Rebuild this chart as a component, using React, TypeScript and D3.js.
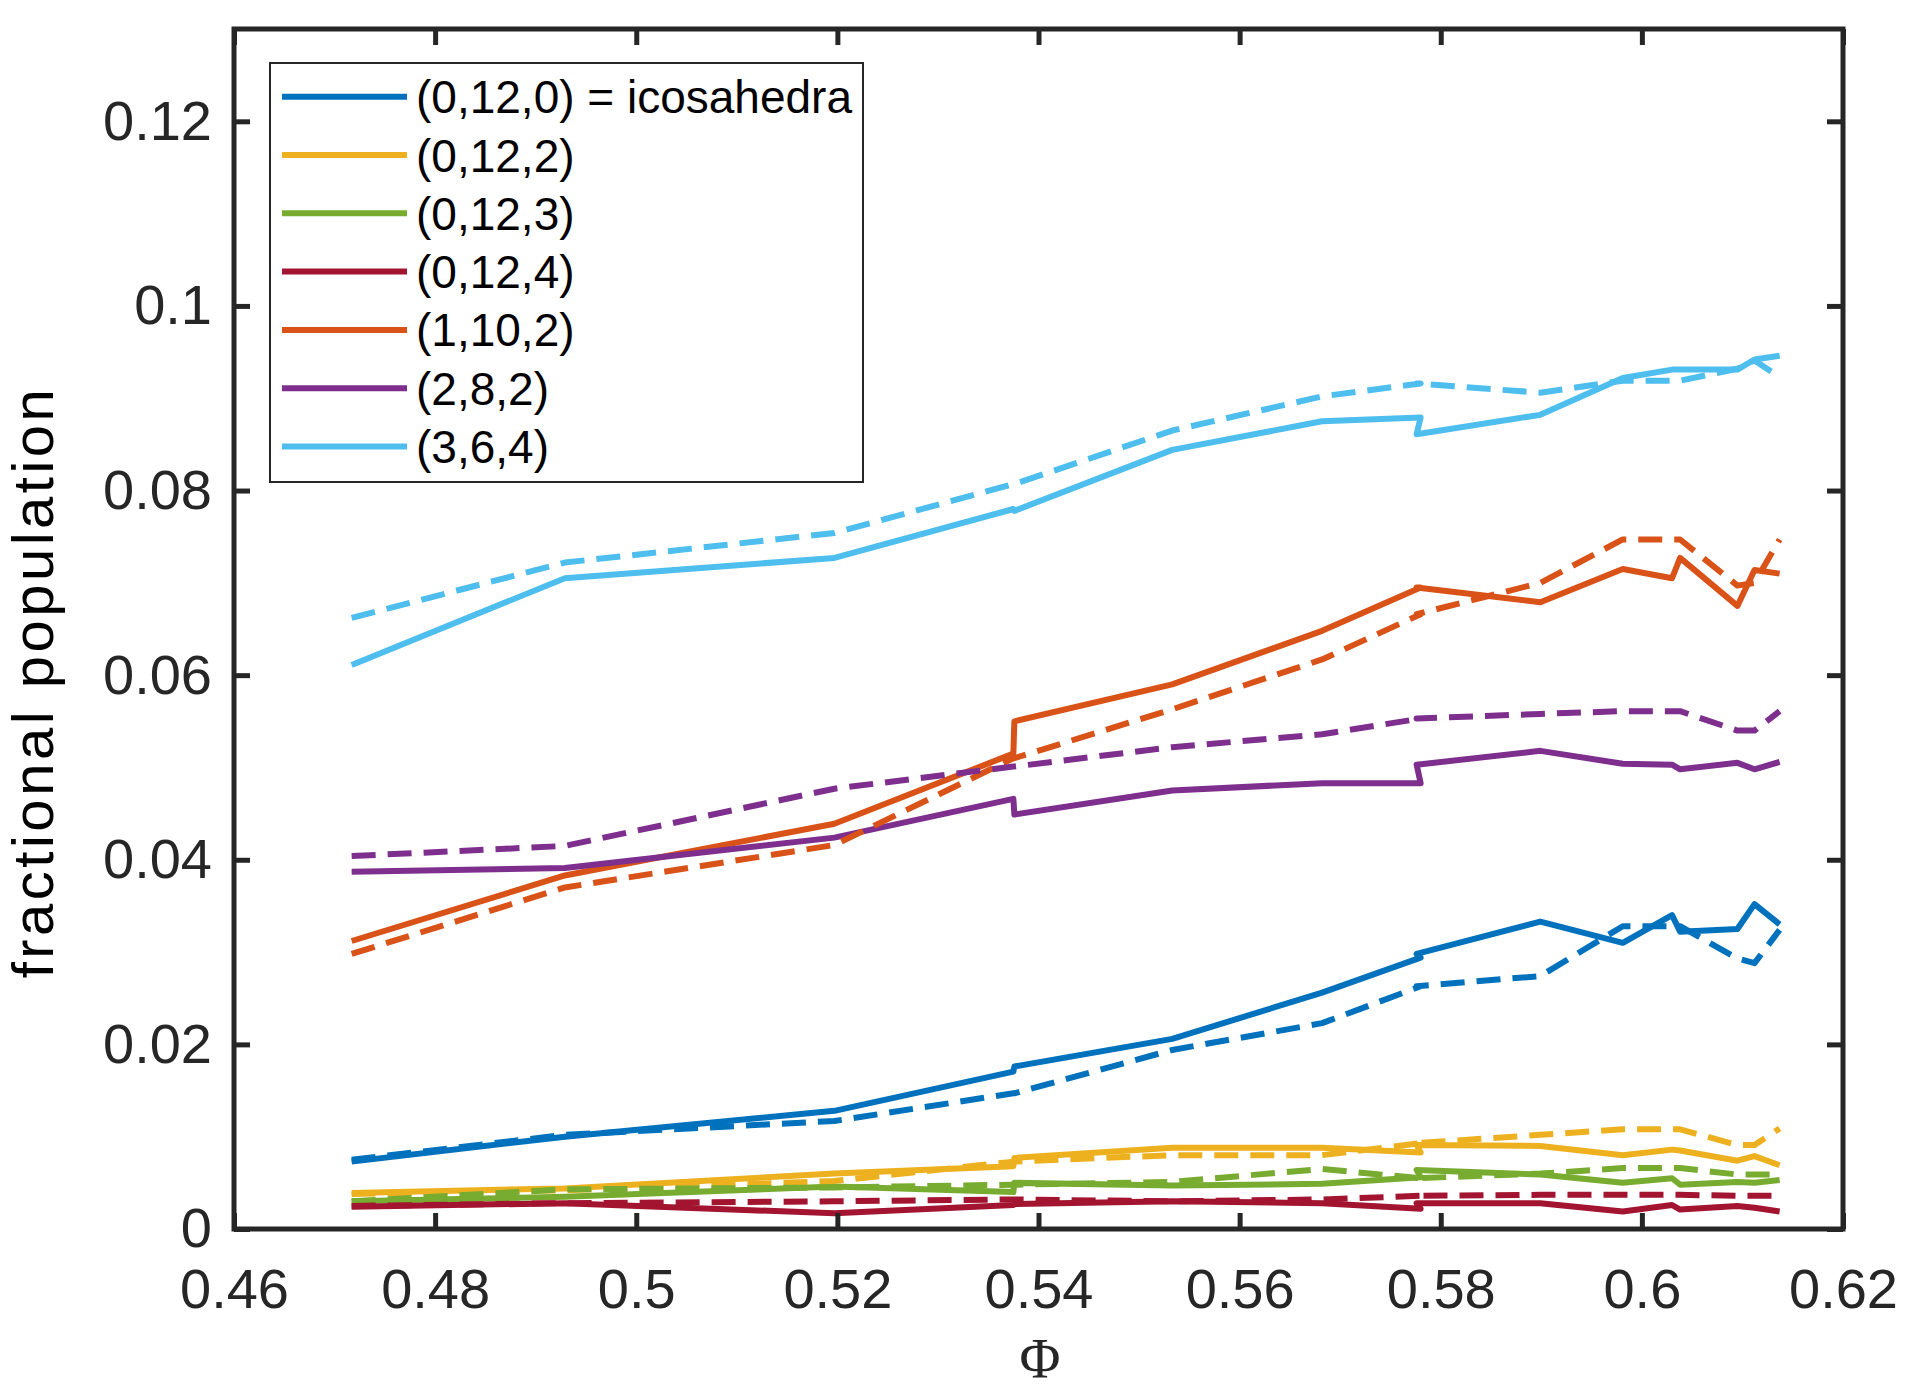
import { useEffect, useRef } from 'react';
import * as d3 from 'd3';

// packing fraction (x)
const phi = [0.4717, 0.4929, 0.5197, 0.5375, 0.5376, 0.5533, 0.5682, 0.578, 0.5776, 0.5899, 0.5981, 0.603, 0.6038, 0.6095, 0.6112, 0.6137];

const labels = ['(0,12,0) = icosahedra', '(0,12,2)', '(0,12,3)', '(0,12,4)', '(1,10,2)', '(2,8,2)', '(3,6,4)'];

// solid lines
const icosaSolid = [0.0073, 0.01, 0.0128, 0.01705, 0.0176, 0.0206, 0.0256, 0.0294, 0.0298, 0.0333, 0.031, 0.034, 0.0322, 0.0325, 0.0352, 0.033];
const c0122Solid = [0.0039, 0.0044, 0.006, 0.0068, 0.0077, 0.0088, 0.0088, 0.0083, 0.0091, 0.009, 0.008, 0.0086, 0.0085, 0.0074, 0.0079, 0.0069];
const c0123Solid = [0.003, 0.0035, 0.0046, 0.004, 0.005, 0.0047, 0.0049, 0.0056, 0.0064, 0.0059, 0.005, 0.0055, 0.0048, 0.0051, 0.005, 0.0053];
const c0124Solid = [0.0024, 0.0028, 0.0017, 0.0026, 0.0027, 0.003, 0.0028, 0.0022, 0.0028, 0.0028, 0.0019, 0.0026, 0.0021, 0.0025, 0.0023, 0.0019];
const c1102Solid = [0.0312, 0.0383, 0.0439, 0.0515, 0.055, 0.059, 0.0648, 0.0695, 0.0695, 0.0679, 0.0715, 0.0705, 0.0727, 0.0675, 0.0714, 0.071];
const c282Solid = [0.0387, 0.0391, 0.0424, 0.0466, 0.0449, 0.0475, 0.0483, 0.0483, 0.0503, 0.0518, 0.0504, 0.0503, 0.0498, 0.0505, 0.0498, 0.0506];
const c364Solid = [0.0611, 0.0705, 0.0727, 0.078, 0.0778, 0.0844, 0.0875, 0.0879, 0.0861, 0.0882, 0.0922, 0.0931, 0.0931, 0.0931, 0.0942, 0.0946];

// dashed lines
const icosaDashed = [0.0075, 0.0102, 0.0117, 0.0147, 0.0147, 0.0194, 0.0223, 0.0263, 0.0263, 0.0274, 0.0328, 0.0328, 0.0328, 0.0293, 0.0288, 0.0324];
const c0122Dashed = [0.0038, 0.0042, 0.0052, 0.0073, 0.0073, 0.008, 0.008, 0.0093, 0.0093, 0.0102, 0.0108, 0.0108, 0.0108, 0.0091, 0.0091, 0.0109];
const c0123Dashed = [0.003, 0.0043, 0.0045, 0.0048, 0.0048, 0.0051, 0.0065, 0.0055, 0.0055, 0.006, 0.0066, 0.0066, 0.0066, 0.0059, 0.0059, 0.0059];
const c0124Dashed = [0.0025, 0.0028, 0.003, 0.0032, 0.0032, 0.003, 0.0032, 0.0036, 0.0036, 0.0037, 0.0037, 0.0037, 0.0037, 0.0036, 0.0036, 0.0036];
const c1102Dashed = [0.0298, 0.037, 0.0416, 0.051, 0.051, 0.0563, 0.0617, 0.0666, 0.0666, 0.07, 0.0747, 0.0747, 0.0747, 0.0697, 0.07, 0.0747];
const c282Dashed = [0.0404, 0.0415, 0.0477, 0.0501, 0.0501, 0.0522, 0.0536, 0.0553, 0.0553, 0.0558, 0.0561, 0.0561, 0.0561, 0.054, 0.054, 0.0561];
const c364Dashed = [0.0662, 0.0722, 0.0754, 0.0807, 0.0807, 0.0865, 0.0902, 0.0916, 0.0916, 0.0906, 0.0919, 0.0919, 0.0919, 0.0932, 0.0941, 0.0923];

const xTicks = [0.46, 0.48, 0.5, 0.52, 0.54, 0.56, 0.58, 0.6, 0.62];
const yTicks = [0, 0.02, 0.04, 0.06, 0.08, 0.1, 0.12];

const colors = ['#0072BD', '#EDB120', '#77AC30', '#A2142F', '#D95319', '#7E2F8E', '#4DBEEE'];

export default function App() {
  const svgRef = useRef<SVGSVGElement>(null);

  useEffect(() => {
    if (!svgRef.current) return;

    const width = 1914;
    const height = 1394;
    const margin = { top: 29, right: 71, bottom: 165, left: 234 };
    const innerWidth = width - margin.left - margin.right;
    const innerHeight = height - margin.top - margin.bottom;
    const axisColor = '#262626';
    const font = '"Liberation Sans", Arial, Helvetica, sans-serif';

    const svg = d3.select(svgRef.current);
    svg.selectAll('*').remove();
    svg.attr('width', width).attr('height', height);

    const g = svg.append('g').attr('transform', `translate(${margin.left},${margin.top})`);

    const xScale = d3.scaleLinear().domain([0.46, 0.62]).range([0, innerWidth]);
    const yScale = d3.scaleLinear().domain([0, 0.13]).range([innerHeight, 0]);

    const solid = [icosaSolid, c0122Solid, c0123Solid, c0124Solid, c1102Solid, c282Solid, c364Solid];
    const dashed = [icosaDashed, c0122Dashed, c0123Dashed, c0124Dashed, c1102Dashed, c282Dashed, c364Dashed];

    const line = d3
      .line<number>()
      .x((_, i) => xScale(phi[i]))
      .y((d) => yScale(d));

    // Solid lines first, then dashed
    solid.forEach((vals, i) => {
      g.append('path')
        .datum(vals)
        .attr('fill', 'none')
        .attr('stroke', colors[i])
        .attr('stroke-width', 6)
        .attr('stroke-linejoin', 'round')
        .attr('d', line);
    });
    dashed.forEach((vals, i) => {
      g.append('path')
        .datum(vals)
        .attr('fill', 'none')
        .attr('stroke', colors[i])
        .attr('stroke-width', 6)
        .attr('stroke-dasharray', '24,12')
        .attr('stroke-linejoin', 'round')
        .attr('d', line);
    });

    const fmt = (d: d3.NumberValue) => String(+(+d).toFixed(2));

    // Bottom axis with labels
    const xAxis = g
      .append('g')
      .attr('transform', `translate(0,${innerHeight})`)
      .call(d3.axisBottom(xScale).tickValues(xTicks).tickSize(-16).tickSizeOuter(0).tickPadding(39).tickFormat(fmt));
    // Top axis, ticks only
    const xAxisTop = g
      .append('g')
      .call(d3.axisTop(xScale).tickValues(xTicks).tickSize(-16).tickSizeOuter(0).tickFormat(() => ''));
    // Left axis with labels
    const yAxis = g
      .append('g')
      .call(d3.axisLeft(yScale).tickValues(yTicks).tickSize(-16).tickSizeOuter(0).tickPadding(22).tickFormat(fmt));
    // Right axis, ticks only
    const yAxisRight = g
      .append('g')
      .attr('transform', `translate(${innerWidth},0)`)
      .call(d3.axisRight(yScale).tickValues(yTicks).tickSize(-16).tickSizeOuter(0).tickFormat(() => ''));

    [xAxis, xAxisTop, yAxis, yAxisRight].forEach((ax) => {
      ax.select('.domain').remove();
      ax.selectAll('line').attr('stroke', axisColor).attr('stroke-width', 5);
      ax.selectAll('text')
        .attr('fill', axisColor)
        .attr('font-family', font)
        .attr('font-size', '56px');
    });

    // Box
    g.append('rect')
      .attr('x', 0)
      .attr('y', 0)
      .attr('width', innerWidth)
      .attr('height', innerHeight)
      .attr('fill', 'none')
      .attr('stroke', axisColor)
      .attr('stroke-width', 5);

    // Legend
    const legend = svg.append('g');
    legend
      .append('rect')
      .attr('x', 270)
      .attr('y', 63)
      .attr('width', 593)
      .attr('height', 419)
      .attr('fill', '#fff')
      .attr('stroke', axisColor)
      .attr('stroke-width', 2);
    labels.forEach((label, i) => {
      const ly = 96.7 + i * 58.3;
      legend
        .append('line')
        .attr('x1', 282)
        .attr('x2', 407)
        .attr('y1', ly)
        .attr('y2', ly)
        .attr('stroke', colors[i])
        .attr('stroke-width', 6);
      legend
        .append('text')
        .attr('x', 416)
        .attr('y', ly)
        .attr('dy', '0.36em')
        .attr('font-family', font)
        .attr('font-size', '46px')
        .attr('fill', '#000')
        .text(label);
    });

    // Axis labels
    svg
      .append('text')
      .attr('transform', 'translate(53,682) rotate(-90)')
      .attr('text-anchor', 'middle')
      .attr('font-family', font)
      .attr('font-size', '58px')
      .attr('letter-spacing', '3.5px')
      .attr('fill', '#000')
      .text('fractional population');

    svg
      .append('text')
      .attr('x', 1040)
      .attr('y', 1378)
      .attr('text-anchor', 'middle')
      .attr('font-family', '"Liberation Serif", "DejaVu Serif", serif')
      .attr('font-size', '56px')
      .attr('fill', '#262626')
      .text('Φ');
  }, []);

  return <svg ref={svgRef} style={{ position: 'absolute', left: 0, top: 0, background: '#fff' }} />;
}
